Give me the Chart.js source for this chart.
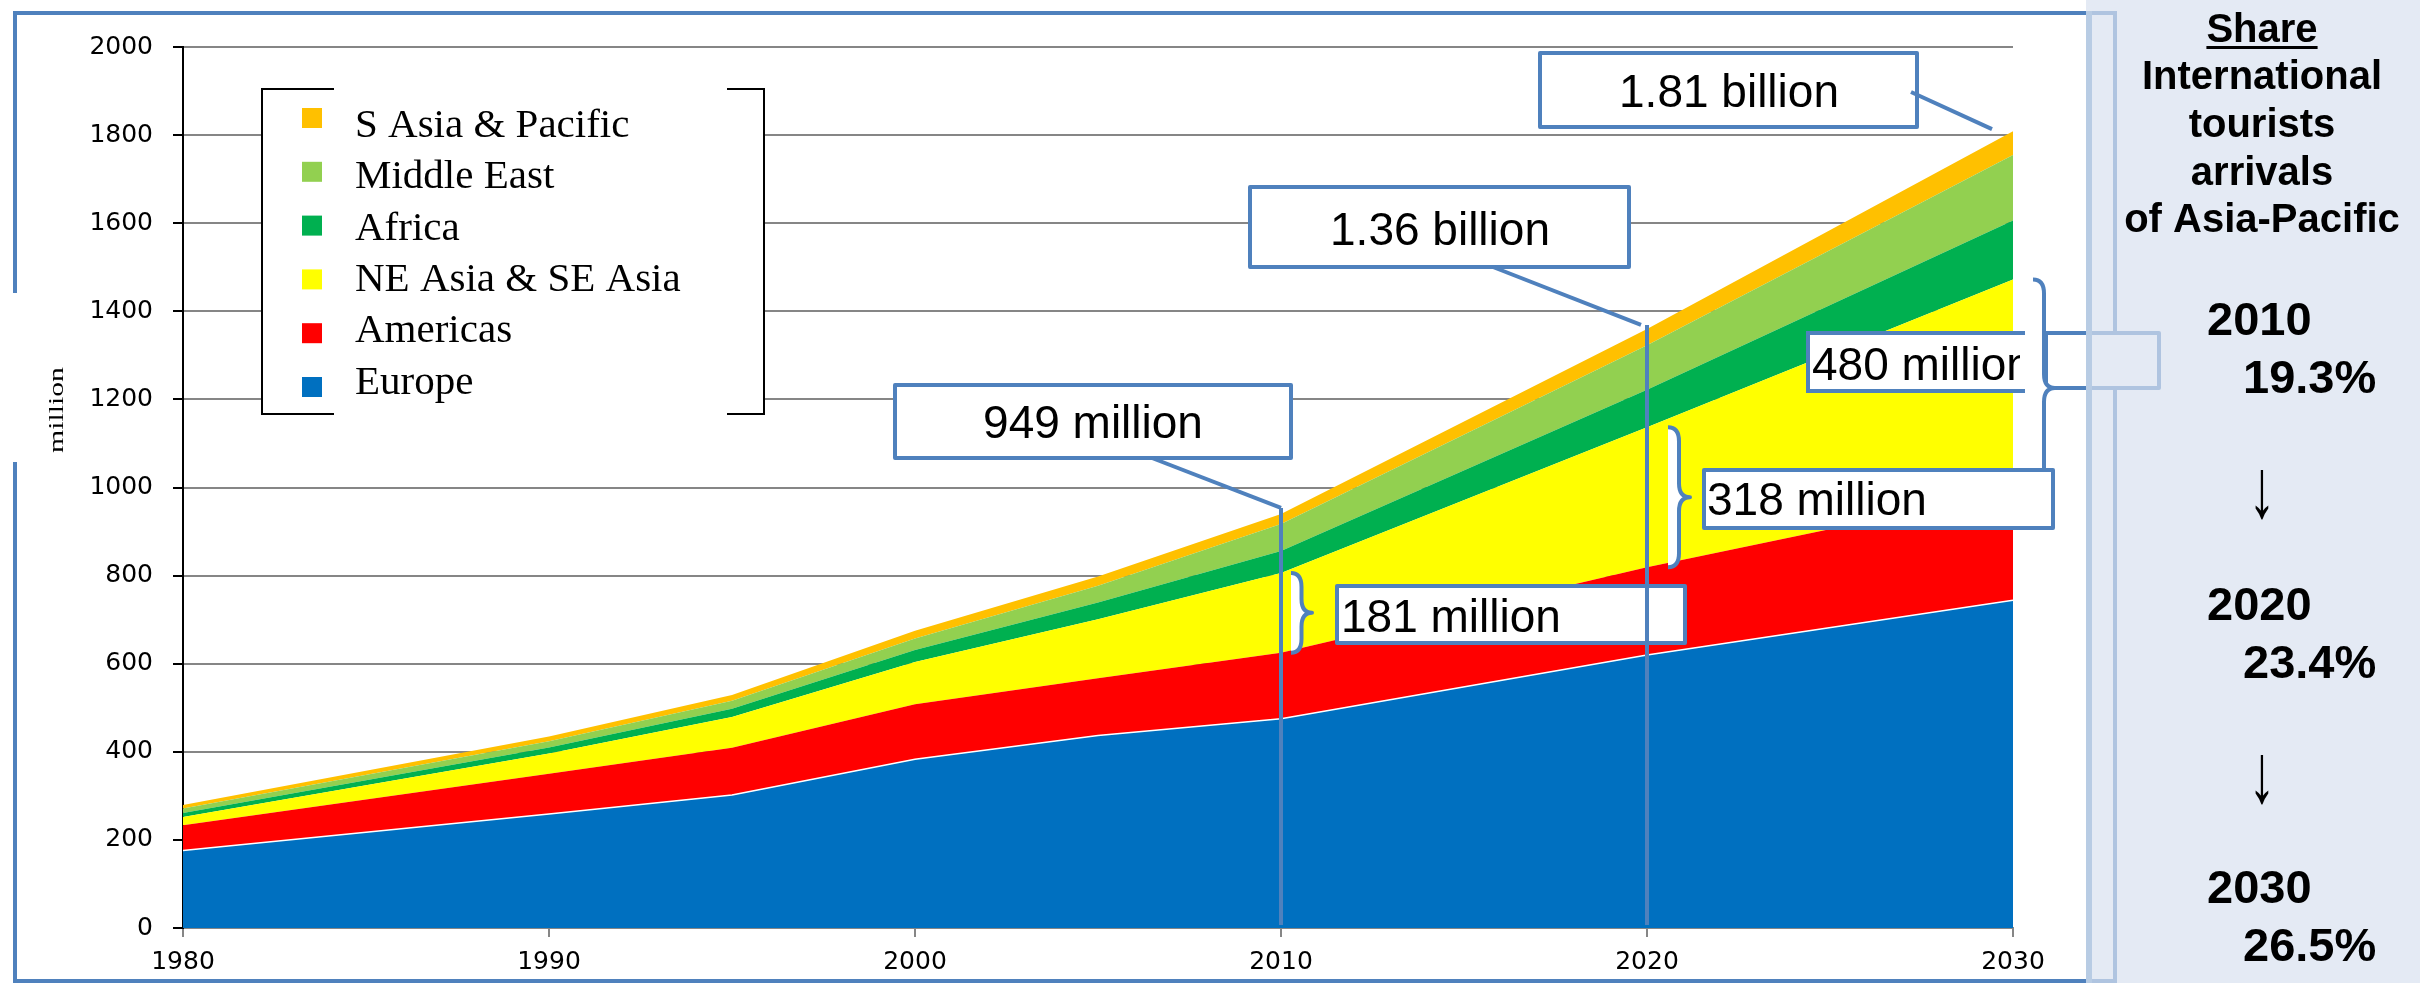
<!DOCTYPE html>
<html>
<head>
<meta charset="utf-8">
<script src="https://cdn.jsdelivr.net/npm/chart.js@4.4.1/dist/chart.umd.min.js"></script>
<style>
html, body { margin: 0; padding: 0; background: #fff; }
#wrap { width: 2420px; height: 983px; position: relative; }
</style>
</head>
<body>
<div id="wrap"><canvas id="chart"></canvas></div>
<script>
// international tourist arrivals by region, million (stacked)
var years = [1980, 1990, 1995, 2000, 2005, 2010, 2020, 2030];
var europe = [176, 259, 302, 383, 437, 475, 620, 744];
var americas = [57, 91, 107, 125, 130, 150, 199, 248];
var neSeAsia = [19, 46, 70, 96, 134, 181, 318, 480];
var africa = [9, 14, 19, 27, 38, 50, 85, 134];
var middleEast = [10, 14, 18, 26, 38, 61, 101, 149];
var sAsiaPacific = [8, 11, 13, 18, 21, 23, 37, 54];

var regionNames = ['Europe', 'Americas', 'NE Asia & SE Asia', 'Africa', 'Middle East', 'S Asia & Pacific'];
var regionColors = ['#0070C0', '#FF0000', '#FFFF00', '#00B050', '#92D050', '#FFC000'];

var calloutTexts = ['949 million', '1.36 billion', '1.81 billion', '181 million', '318 million', '480 million'];
var panelTitle = ['Share', 'International', 'tourists', 'arrivals', 'of Asia-Pacific'];
var shareYears = ['2010', '2020', '2030'];
var shareValues = ['19.3%', '23.4%', '26.5%'];

var BLUE = '#4F81BD';

function points(values) {
    return values.map(function (v, i) { return {x: years[i], y: v}; });
}

function stackTop(idx, upTo) {
    var series = [europe, americas, neSeAsia, africa, middleEast, sAsiaPacific];
    var s = 0, k;
    for (k = 0; k <= upTo; k += 1) { s += series[k][idx]; }
    return s;
}

function box(ctx, x, y, w, h) {
    ctx.fillStyle = '#fff';
    ctx.fillRect(x, y, w, h);
    ctx.strokeStyle = BLUE;
    ctx.lineWidth = 4;
    ctx.lineJoin = 'round';
    ctx.strokeRect(x, y, w, h);
}

function brace(ctx, x, top, bottom, w, tipY) {
    var mid = tipY === undefined ? (top + bottom) / 2 : tipY;
    var xm = x + w / 2, r = 14;
    ctx.beginPath();
    ctx.moveTo(x, top);
    ctx.quadraticCurveTo(xm, top, xm, top + r);
    ctx.lineTo(xm, mid - r);
    ctx.quadraticCurveTo(xm, mid, x + w, mid);
    ctx.quadraticCurveTo(xm, mid, xm, mid + r);
    ctx.lineTo(xm, bottom - r);
    ctx.quadraticCurveTo(xm, bottom, x, bottom);
    ctx.fillStyle = '#fff';
    ctx.fill();
    ctx.strokeStyle = BLUE;
    ctx.lineWidth = 4;
    ctx.stroke();
}

function line(ctx, x1, y1, x2, y2) {
    ctx.beginPath();
    ctx.moveTo(x1, y1);
    ctx.lineTo(x2, y2);
    ctx.strokeStyle = BLUE;
    ctx.lineWidth = 4;
    ctx.stroke();
}

var decor = {
    id: 'decor',
    beforeDraw: function (chart) {
        var ctx = chart.ctx;
        ctx.save();
        ctx.fillStyle = '#fff';
        ctx.fillRect(0, 0, chart.width, chart.height);
        ctx.restore();
    },
    afterDraw: function (chart) {
        var ctx = chart.ctx;
        var xs = chart.scales.x, ys = chart.scales.y;
        var x2010 = xs.getPixelForValue(2010), x2020 = xs.getPixelForValue(2020), x2030 = xs.getPixelForValue(2030);
        var i, ds;
        ctx.save();

        // outer frame
        ctx.strokeStyle = BLUE;
        ctx.lineWidth = 4;
        ctx.strokeRect(15, 13, 2100, 968);
        ctx.fillStyle = '#fff';
        ctx.fillRect(8, 293, 16, 169);

        // y title
        ctx.save();
        ctx.translate(63, 410);
        ctx.rotate(-Math.PI / 2);
        ctx.scale(1.35, 1);
        ctx.fillStyle = '#000';
        ctx.font = '22px "Liberation Serif"';
        ctx.textAlign = 'center';
        ctx.textBaseline = 'alphabetic';
        ctx.fillText('million', 0, 0);
        ctx.restore();

        // legend
        ctx.fillStyle = '#fff';
        ctx.fillRect(262, 89, 502, 325);
        ctx.strokeStyle = '#000';
        ctx.lineWidth = 2;
        ctx.beginPath();
        ctx.moveTo(334, 89); ctx.lineTo(262, 89); ctx.lineTo(262, 414); ctx.lineTo(334, 414);
        ctx.moveTo(727, 89); ctx.lineTo(764, 89); ctx.lineTo(764, 414); ctx.lineTo(727, 414);
        ctx.stroke();
        ctx.font = '41px "Liberation Serif"';
        ctx.textAlign = 'left';
        ctx.textBaseline = 'alphabetic';
        for (i = 0; i < chart.data.datasets.length; i += 1) {
            ds = chart.data.datasets[chart.data.datasets.length - 1 - i];
            ctx.fillStyle = ds.backgroundColor;
            ctx.fillRect(302, 108 + i * 53.8, 20, 20);
            ctx.fillStyle = '#000';
            ctx.fillText(ds.label, 355, 137 + i * 51.3);
        }

        // 480 million callout (partly under the side panel)
        ctx.fillStyle = '#fff';
        ctx.fillRect(1808, 333, 217, 58);
        ctx.strokeStyle = BLUE;
        ctx.lineWidth = 4;
        ctx.beginPath();
        ctx.moveTo(2025, 333); ctx.lineTo(1808, 333); ctx.lineTo(1808, 391); ctx.lineTo(2025, 391);
        ctx.stroke();
        box(ctx, 2046, 333, 113, 55);
        ctx.save();
        ctx.beginPath();
        ctx.rect(1808, 333, 212, 58);
        ctx.clip();
        ctx.fillStyle = '#000';
        ctx.font = '46px "Liberation Sans"';
        ctx.fillText(calloutTexts[5], 1812, 380);
        ctx.restore();
        brace(ctx, x2030 + 20, ys.getPixelForValue(stackTop(7, 2)), ys.getPixelForValue(stackTop(7, 1)), 22, 388);

        // 318 million callout
        box(ctx, 1704, 470, 349, 58);
        ctx.fillStyle = '#000';
        ctx.font = '46px "Liberation Sans"';
        ctx.fillText(calloutTexts[4], 1707, 515);
        brace(ctx, x2020 + 21, ys.getPixelForValue(stackTop(6, 2)), ys.getPixelForValue(stackTop(6, 1)), 22);

        // 181 million callout
        box(ctx, 1337, 586, 348, 57);
        ctx.fillStyle = '#000';
        ctx.fillText(calloutTexts[3], 1341, 632);
        brace(ctx, x2010 + 10, ys.getPixelForValue(stackTop(5, 2)), ys.getPixelForValue(stackTop(5, 1)), 21);

        // totals
        ctx.textAlign = 'center';
        box(ctx, 895, 385, 396, 73);
        ctx.fillStyle = '#000';
        ctx.fillText(calloutTexts[0], 1093, 438);
        box(ctx, 1250, 187, 379, 80);
        ctx.fillStyle = '#000';
        ctx.fillText(calloutTexts[1], 1440, 245);
        box(ctx, 1540, 53, 377, 74);
        ctx.fillStyle = '#000';
        ctx.fillText(calloutTexts[2], 1729, 107);

        var y0 = ys.getPixelForValue(0) - 3;
        var t2010 = ys.getPixelForValue(stackTop(5, 5)) - 6;
        var t2020 = ys.getPixelForValue(stackTop(6, 5)) - 4;
        var t2030 = ys.getPixelForValue(stackTop(7, 5));
        line(ctx, 1152, 458, x2010, t2010);
        line(ctx, x2010, t2010, x2010, y0);
        line(ctx, 1493, 267, x2020 - 6, t2020);
        line(ctx, x2020, t2020, x2020, y0);
        line(ctx, 1911, 92, x2030 - 21, t2030 - 2);

        // side panel
        ctx.fillStyle = 'rgba(216,225,239,0.7)';
        ctx.fillRect(2086, 0, 334, 983);
        ctx.fillStyle = '#B8CCE4';
        ctx.fillRect(2086, 11, 6, 972);

        ctx.fillStyle = '#000';
        ctx.textAlign = 'center';
        ctx.font = 'bold 40px "Liberation Sans"';
        var titleY = [42, 89, 137, 185, 232];
        for (i = 0; i < panelTitle.length; i += 1) {
            ctx.fillText(panelTitle[i], 2262, titleY[i]);
        }
        var w = ctx.measureText(panelTitle[0]).width;
        ctx.fillRect(2262 - w / 2, 46, w, 3);

        ctx.textAlign = 'left';
        var yearY = [335, 620, 903];
        for (i = 0; i < shareYears.length; i += 1) {
            ctx.font = 'bold 47px "Liberation Sans"';
            ctx.fillText(shareYears[i], 2207, yearY[i]);
            ctx.fillText(shareValues[i], 2243, yearY[i] + 58);
        }
        ctx.textAlign = 'center';
        ctx.font = '54px "Liberation Sans"';
        [517, 802].forEach(function (by) {
            ctx.save();
            ctx.translate(2262, by);
            ctx.scale(1, 1.55);
            ctx.fillText('\u2193', 0, 0);
            ctx.restore();
        });

        ctx.restore();
    }
};

var datasets = [europe, americas, neSeAsia, africa, middleEast, sAsiaPacific].map(function (values, i) {
    return {
        label: regionNames[i],
        data: points(values),
        backgroundColor: regionColors[i],
        borderColor: i === 0 ? '#ffffff' : regionColors[i],
        borderWidth: i === 0 ? 1.5 : 0,
        pointRadius: 0,
        tension: 0,
        fill: i === 0 ? 'origin' : '-1'
    };
});

new Chart(document.getElementById('chart'), {
    type: 'line',
    data: {datasets: datasets},
    options: {
        responsive: true,
        maintainAspectRatio: false,
        animation: false,
        layout: {padding: {top: 47, right: 407, bottom: 0, left: 0}},
        plugins: {legend: {display: false}, tooltip: {enabled: false}},
        scales: {
            x: {
                type: 'linear',
                min: 1980,
                max: 2030,
                afterFit: function (scale) { scale.height = 55; },
                ticks: {
                    stepSize: 10,
                    color: '#000',
                    padding: 10,
                    font: {family: 'DejaVu Sans', size: 25},
                    callback: function (v) { return String(v); }
                },
                grid: {drawOnChartArea: false, tickLength: 9, tickColor: '#868686', lineWidth: 2},
                border: {color: '#868686', width: 2}
            },
            y: {
                stacked: true,
                min: 0,
                max: 2000,
                afterFit: function (scale) { scale.width = 183; },
                ticks: {
                    stepSize: 200,
                    color: '#000',
                    padding: 20,
                    font: {family: 'DejaVu Sans', size: 25},
                    callback: function (v) { return String(v); }
                },
                grid: {color: '#868686', lineWidth: 2, tickLength: 10, tickColor: '#000'},
                border: {color: '#000', width: 2}
            }
        }
    },
    plugins: [decor]
});
</script>
</body>
</html>
